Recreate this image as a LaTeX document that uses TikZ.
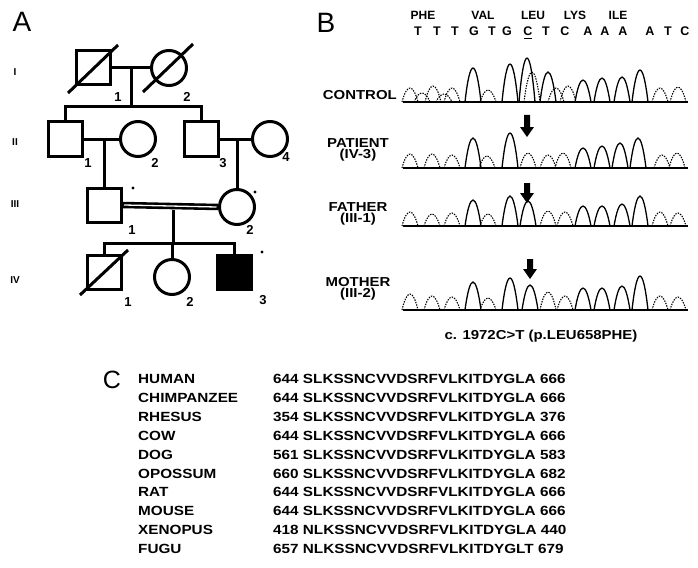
\documentclass[tikz,border=0pt]{standalone}
\usepackage{fontspec}
\setmainfont{Liberation Sans}
\newfontfamily\labf[FakeStretch=1.15]{Liberation Sans}
\begin{document}
\begin{tikzpicture}[x=1pt,y=-1pt,
  pline/.style={line width=3pt},
  sq/.style={draw,line width=3pt,minimum size=34pt,inner sep=0pt},
  circ/.style={circle,draw,line width=3pt,minimum size=35pt,inner sep=0pt},
  num/.style={font=\fontsize{13}{13}\selectfont\bfseries,inner sep=0pt},
  gen/.style={font=\fontsize{10}{10}\selectfont\bfseries,inner sep=0pt},
  panel/.style={font=\fontsize{28}{28}\selectfont,inner sep=0pt},
  lab/.style={font=\labf\fontsize{13}{11.5}\selectfont\bfseries,inner sep=0pt,align=center},
  aa/.style={font=\fontsize{12}{12}\selectfont\bfseries,inner sep=0pt},
  base/.style={font=\fontsize{12.5}{12.5}\selectfont\bfseries,inner sep=0pt},
  cname/.style={font=\labf\fontsize{13.3}{13.3}\selectfont\bfseries,inner sep=0pt,anchor=west},
  pks/.style={line width=1.3pt},
  pkd/.style={line width=1.1pt,dash pattern=on 1.4pt off 1.2pt},
]
\useasboundingbox (0,0) rectangle (698,567);
\newcommand\trace[2]{%
  \foreach \px/\ph/\ps in {#2} {
    \draw[\ps] (\px-8,#1) .. controls (\px-3,#1-1.33*\ph) and (\px+3,#1-1.33*\ph) .. (\px+8,#1);
  }
  \draw[line width=2.5pt] (403,#1) -- (688,#1);
}
\newcommand\darrow[4]{%
  \fill (#1-3,#2) -- (#1+3,#2) -- (#1+3,#3) -- (#1+7,#3) -- (#1,#4) -- (#1-7,#3) -- (#1-3,#3) -- cycle;
}

% ---------- Panel A ----------
\node[panel] (pA) at (22,22) {A};
\node[gen] (gI) at (15,72) {I};
\node[gen] (gII) at (15,142) {II};
\node[gen] (gIII) at (15,204) {III};
\node[gen] (gIV) at (15,280) {IV};

% generation I
\node[sq] (I1) at (93,68) {};
\node[circ] (I2) at (169,68) {};
\draw[pline] (I1.center) ++(-25,25) -- ++(50,-48);
\draw[pline] (I2.center) ++(-26,24) -- ++(50,-48);
\draw[pline] (I1.east) -- (I2.west);
\coordinate (m1) at (131,68);
\coordinate (s1) at (131,107);
\draw[pline] (m1) -- (s1);
\node[num] (lI1) at (118,97) {1};
\node[num] (lI2) at (187,97) {2};

% generation II
\node[sq] (II1) at (65,139) {};
\node[circ] (II2) at (138,139) {};
\node[sq] (II3) at (201,139) {};
\node[circ] (II4) at (270,139) {};
\draw[pline] (II1.north) |- (s1) -| (II3.north);
\draw[pline] (II1.east) -- (II2.west);
\draw[pline] (II3.east) -- (II4.west);
\node[num] (lII1) at (88,163) {1};
\node[num] (lII2) at (155,163) {2};
\node[num] (lII3) at (223,163) {3};
\node[num] (lII4) at (286,157) {4};

% generation III
\node[sq] (III1) at (104,205) {};
\node[circ] (III2) at (237,207) {};
\draw[pline] (III1.north) -- (III1.north |- II1.east);
\draw[pline] (III2.north) -- (III2.north |- II3.east);
\draw[line width=6.5pt] (III1.east) -- (III2.west);
\draw[line width=1.3pt,white] ([xshift=1.5pt]III1.east) -- ([xshift=-1.5pt]III2.west);
\fill (133,188) circle (1.6pt);
\fill (255,192) circle (1.6pt);
\node[num] (lIII1) at (132,230) {1};
\node[num] (lIII2) at (250,230) {2};
\coordinate (m3) at (173,210);
\coordinate (s3) at (173,243);
\draw[pline] (m3) -- (s3);

% generation IV
\node[sq] (IV1) at (104,272) {};
\node[circ] (IV2) at (172,277) {};
\node[sq,fill=black] (IV3) at (234,272) {};
\draw[pline] (IV1.north) |- (s3) -| (IV3.north);
\draw[pline] (IV2.north) -- (IV2.north |- s3);
\draw[pline] (IV1.center) ++(-24,23) -- ++(48,-45);
\fill (262,252) circle (1.6pt);
\node[num] (lIV1) at (128,302) {1};
\node[num] (lIV2) at (190,302) {2};
\node[num] (lIV3) at (263,300) {3};

% ---------- Panel B ----------
\node[panel] (pB) at (326,23) {B};
\node[aa] (aPHE) at (423,15) {PHE};
\node[aa] (aVAL) at (483,15) {VAL};
\node[aa] (aLEU) at (533,15) {LEU};
\node[aa] (aLYS) at (575,15) {LYS};
\node[aa] (aILE) at (618,15) {ILE};
\foreach \bx/\bl [count=\k] in {418/T,437/T,455/T,474/G,492/T,507/G,528/C,546/T,565/C,588/A,605/A,623/A,650/A,668/T,685/C}
  \node[base] (b\k) at (\bx,31) {\bl};
\draw[line width=1pt] (524,39) -- (532,39);

\node[lab,anchor=east] (tC) at (397,95) {CONTROL};
\node[lab] (tP) at (358,150) {PATIENT\\(IV-3)};
\node[lab] (tF) at (358,214) {FATHER\\(III-1)};
\node[lab] (tM) at (358,289) {MOTHER\\(III-2)};

\trace{102}{410/14/pkd,422/9/pkd,433/16/pkd,444/8/pkd,452/14/pkd,473/34/pks,488/12/pkd,510/38/pks,527/44/pks,532/30/pkd,548/30/pks,556/14/pkd,568/16/pkd,583/22/pks,602/24/pks,622/25/pks,640/32/pks,660/14/pkd,678/15/pkd}
\trace{168}{410/14/pkd,432/14/pkd,452/13/pkd,473/30/pks,487/12/pkd,510/35/pks,528/15/pkd,548/13/pkd,563/15/pkd,583/20/pks,602/22/pks,620/25/pks,638/30/pks,662/13/pkd,677/15/pkd}
\trace{226}{410/14/pkd,432/12/pkd,452/13/pkd,473/26/pks,488/12/pkd,510/30/pks,528/25/pks,548/15/pkd,565/14/pkd,583/20/pks,602/20/pks,622/22/pks,640/30/pks,660/14/pkd,678/13/pkd}
\trace{310}{410/16/pkd,432/14/pkd,452/13/pkd,473/28/pks,488/12/pkd,510/32/pks,530/25/pks,548/18/pkd,565/14/pkd,583/22/pks,602/22/pks,622/24/pks,640/34/pks,660/14/pkd,678/13/pkd}

\darrow{527}{115}{127}{137}
\darrow{527}{183}{193}{203}
\darrow{530}{259}{269}{279}

\node[lab] (cap) at (541,336) {c. 1972C>T (p.LEU658PHE)};

% ---------- Panel C ----------
\node[font=\fontsize{25}{25}\selectfont,inner sep=0pt] (pC) at (112,380) {C};
\foreach \nm/\sqn [count=\i from 0] in {
  HUMAN/644 SLKSSNCVVDSRFVLKITDYGLA 666,
  CHIMPANZEE/644 SLKSSNCVVDSRFVLKITDYGLA 666,
  RHESUS/354 SLKSSNCVVDSRFVLKITDYGLA 376,
  COW/644 SLKSSNCVVDSRFVLKITDYGLA 666,
  DOG/561 SLKSSNCVVDSRFVLKITDYGLA 583,
  OPOSSUM/660 SLKSSNCVVDSRFVLKITDYGLA 682,
  RAT/644 SLKSSNCVVDSRFVLKITDYGLA 666,
  MOUSE/644 SLKSSNCVVDSRFVLKITDYGLA 666,
  XENOPUS/418 NLKSSNCVVDSRFVLKITDYGLA 440,
  FUGU/657 NLKSSNCVVDSRFVLKITDYGLT 679}
{
  \node[cname] (n\i) at (138,379+18.9*\i) {\nm};
  \node[cname] (q\i) at (273,379+18.9*\i) {\sqn};
}
\end{tikzpicture}
\end{document}
